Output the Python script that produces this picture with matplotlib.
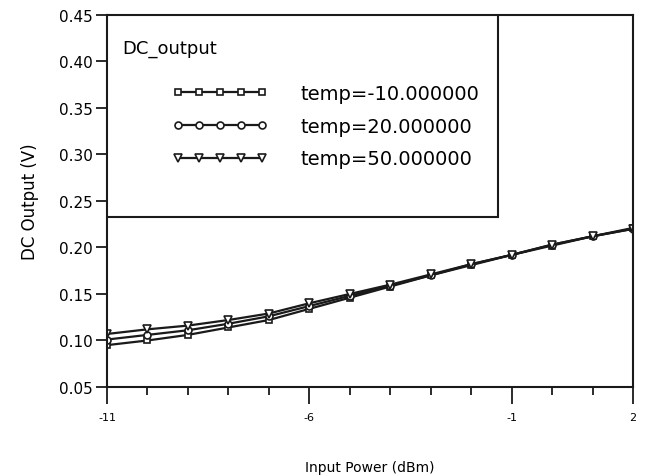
import matplotlib.pyplot as plt
from matplotlib.patches import Rectangle

# input power sweep (dBm)
power = [-11, -10, -9, -8, -7, -6, -5, -4, -3, -2, -1, 0, 1, 2]

# DC output (V) per temperature
out_m10 = [0.095, 0.100, 0.106, 0.114, 0.122, 0.134, 0.146, 0.158, 0.170, 0.181, 0.192, 0.202, 0.212, 0.221]
out_20 = [0.101, 0.106, 0.111, 0.118, 0.126, 0.137, 0.148, 0.159, 0.170, 0.182, 0.192, 0.203, 0.212, 0.220]
out_50 = [0.107, 0.112, 0.116, 0.122, 0.129, 0.140, 0.150, 0.160, 0.171, 0.182, 0.192, 0.203, 0.212, 0.220]

labels = ["temp=-10.000000", "temp=20.000000", "temp=50.000000"]
y_ticks = [0.05, 0.10, 0.15, 0.20, 0.25, 0.30, 0.35, 0.40, 0.45]
x_major = [-11, -6, -1, 2]

plt.rcParams['font.family'] = ['DejaVu Sans']
line_col = '#1a1a1a'

fig = plt.figure(figsize=(6.5, 4.77), dpi=100)
ax = fig.add_axes([0.1646, 0.1866, 0.8092, 0.78])

h1, = ax.plot(power, out_m10, c=line_col, lw=1.6, marker='s', ms=5,
              mfc='white', mec=line_col, mew=1.2)
h2, = ax.plot(power, out_20, c=line_col, lw=1.6, marker='o', ms=5,
              mfc='white', mec=line_col, mew=1.2)
h3, = ax.plot(power, out_50, c=line_col, lw=1.6, marker='v', ms=5.5,
              mfc='white', mec=line_col, mew=1.2)

ax.set_xlim(-11, 2)
ax.set_ylim(0.05, 0.45)
ax.set_xticks(x_major)
ax.set_xticklabels([str(v) for v in x_major], fontsize=8)
ax.set_xticks(power, minor=True)
ax.set_yticks(y_ticks)
ax.set_yticklabels(["%.2f" % v for v in y_ticks], fontsize=11)

ax.tick_params(axis='x', which='major', direction='out', length=12, width=1.3,
               pad=6, color=line_col)
ax.tick_params(axis='x', which='minor', direction='out', length=6, width=1.3,
               color=line_col)
ax.tick_params(axis='y', direction='out', length=8, width=1.3, pad=2,
               color=line_col)
for sp in ax.spines.values():
    sp.set_linewidth(1.5)
    sp.set_color(line_col)

ax.set_xlabel("Input Power (dBm)", fontsize=10)
ax.xaxis.set_label_coords(0.5, -0.195)
ax.set_ylabel("DC Output (V)", fontsize=12)
ax.yaxis.set_label_coords(-0.13, 0.5)

# legend box
ax.add_patch(Rectangle((0, 0.457), 0.743, 0.543, transform=ax.transAxes,
                       fill=True, facecolor='white', edgecolor=line_col,
                       lw=1.5, zorder=5))
ax.text(0.029, 0.912, "DC_output", transform=ax.transAxes, fontsize=13,
        va='center', ha='left', zorder=6)
leg = ax.legend([h1, h2, h3], labels, loc='upper left',
                bbox_to_anchor=(0.124, 0.814), frameon=False, fontsize=14,
                numpoints=5, handlelength=4.9, handletextpad=1.7,
                labelspacing=0.7, borderpad=0, borderaxespad=0)
leg.set_zorder(7)

plt.savefig("out.png", dpi=100)
